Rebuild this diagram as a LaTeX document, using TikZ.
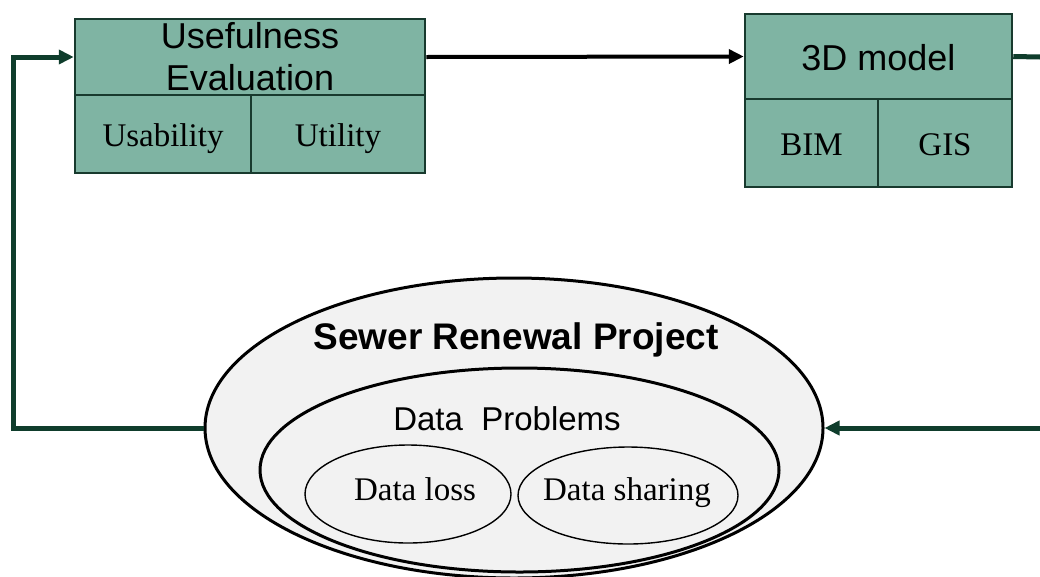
\documentclass[tikz,border=0pt]{standalone}
\usepackage{fontspec}
\setmainfont{Liberation Serif}
\setsansfont{Liberation Sans}
\usetikzlibrary{shapes.geometric,arrows.meta}
\definecolor{boxfill}{HTML}{7FB4A3}
\definecolor{boxline}{HTML}{183A2E}
\definecolor{connc}{HTML}{0F3D2C}
\definecolor{ellfill}{HTML}{F2F2F2}
\tikzset{
  hdr/.style={draw=boxline, line width=2.5pt, fill=boxfill, rectangle, inner sep=0pt,
     font=\sffamily\fontsize{36}{42}\selectfont, align=center},
  cell/.style={draw=boxline, line width=2.5pt, fill=boxfill, rectangle, inner sep=0pt,
     font=\rmfamily\fontsize{33}{38}\selectfont, text height=25pt, text depth=0pt},
  bigell/.style={draw=black, line width=3pt, fill=ellfill, ellipse, inner sep=0pt},
  smallell/.style={draw=black, line width=1.4pt, fill=ellfill, ellipse, inner sep=0pt},
  conn/.style={draw=connc, line width=5pt},
  tip/.style={-{Triangle[length=15pt,width=14pt]}},
  lbl/.style={inner sep=0pt, anchor=base},
  serlbl/.style={lbl, font=\rmfamily\fontsize{33}{38}\selectfont}
}
\begin{document}
\begin{tikzpicture}[x=1pt,y=-1pt]
\useasboundingbox (0,0) rectangle (1040,576);
\fill[white] (0,0) rectangle (1040,576);

% top-left box
\node[hdr, minimum width=350pt, minimum height=76pt] (ue) at (250,57) {Usefulness\\Evaluation};
\node[cell, minimum width=176pt, minimum height=78pt] (usab) at (163,134) {Usability};
\node[cell, minimum width=174pt, minimum height=78pt] (util) at (338,134) {Utility};

% top-right box
\node[hdr, minimum width=267pt, minimum height=85pt, text height=27pt, text depth=0pt] (m3d) at (878.5,56.5) {3D model};
\node[cell, minimum width=133pt, minimum height=88pt, text height=24pt] (bim) at (811.5,143) {BIM};
\node[cell, minimum width=134pt, minimum height=88pt, text height=24pt] (gis) at (945,143) {GIS};

% ellipses
\node[bigell, minimum width=618pt, minimum height=300pt] (outer) at (514,428) {};
\node[bigell, minimum width=519pt, minimum height=204pt] (inner) at (519.5,470) {};
\node[smallell, minimum width=206pt, minimum height=98pt] (loss) at (408,494) {};
\node[smallell, minimum width=220pt, minimum height=97pt] (share) at (628,495.5) {};
\node[serlbl] (losst) at (415,500) {Data loss};
\node[serlbl] (sharet) at (627,500) {Data sharing};
\node[lbl, font=\sffamily\bfseries\fontsize{37}{40}\selectfont] (srp) at (516,349) {Sewer Renewal Project};
\node[lbl, font=\sffamily\fontsize{33}{38}\selectfont] (dp) at (507,430) {Data\ \ Problems};

% connectors
\coordinate (lc) at (13,428);
\coordinate (rtop) at (1040,57);
\coordinate (rbot) at (1040,428);
\draw[line width=4pt, black, tip] (ue.east) -- (m3d.west);
\draw[conn] (m3d.east) -- (rtop);
\draw[conn, tip] (rbot) -- (outer.east);
\draw[conn, tip, line join=miter] (outer.west) -- (lc) |- (ue.west);
\end{tikzpicture}
\end{document}
